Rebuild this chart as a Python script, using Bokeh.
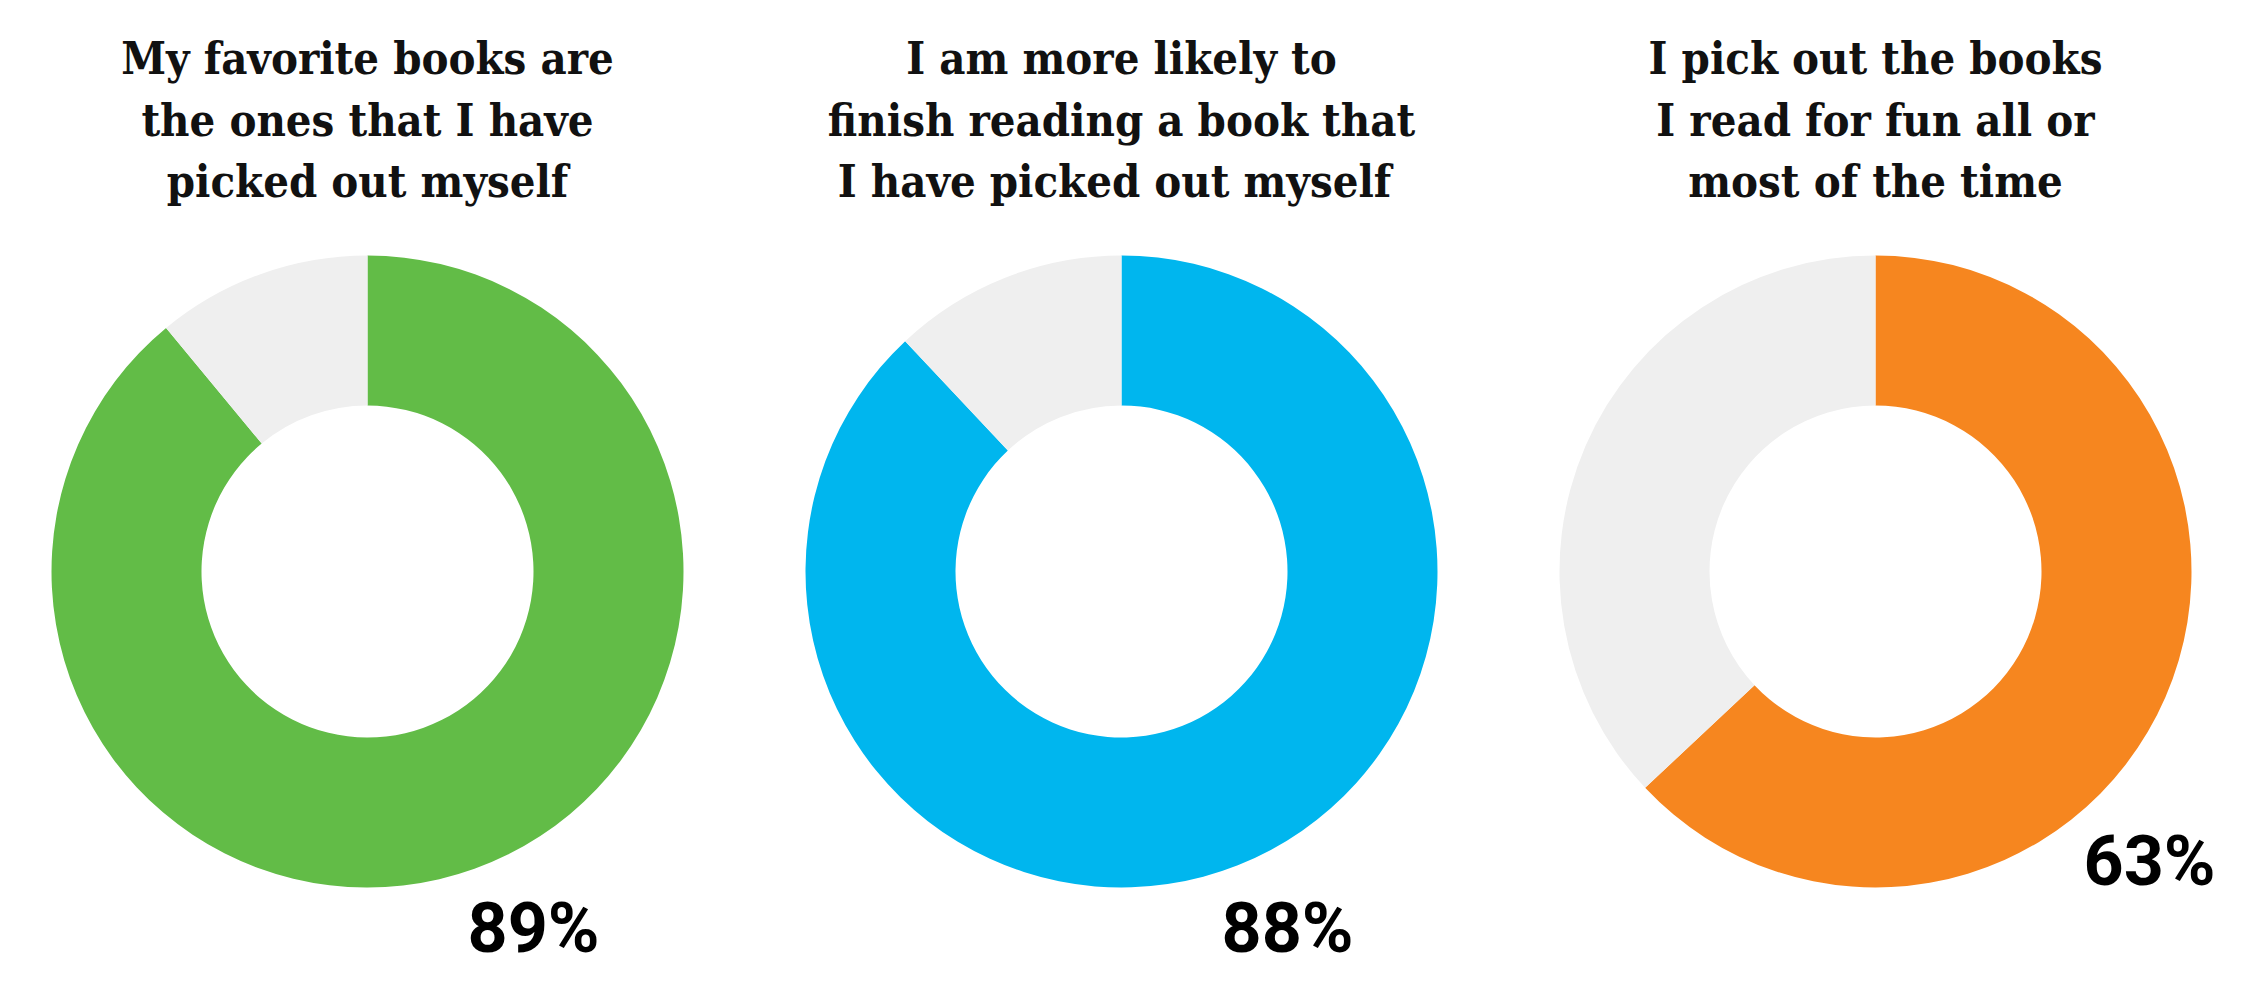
import math
from bokeh.plotting import figure
from bokeh.models import Range1d
from bokeh.core.properties import value
from bokeh.embed import file_html
from bokeh.resources import INLINE

# ---- data ----
titles = [
    ["My favorite books are", "the ones that I have", "picked out myself"],
    ["I am more likely to", "finish reading a book that", " I have picked out myself"],
    ["I pick out the books", "I read for fun all or", "most of the time"],
]
percents = [89, 88, 63]
colors = ["#62BC47", "#00B6EE", "#F6861F"]
rest_color = "#EFEFEF"

# ---- layout (page pixels) ----
PAGE_H = 987
W, H = 2268, 987
X0, Y0 = 0, 0
R_OUT, R_IN = 316, 166
cx0, dx = 367, 754
cy_pix = 571
title_baselines = [58, 120, 181]
label_offsets = [(100, 356), (100, 356), (208, 289)]  # left edge / text anchor, from centre

p = figure(width=W, height=H, output_backend="svg", toolbar_location=None,
           x_range=Range1d(X0, X0 + W), y_range=Range1d(PAGE_H - (Y0 + H), PAGE_H - Y0),
           min_border=0)
p.axis.visible = False
p.grid.visible = False
p.outline_line_color = None
p.background_fill_color = "white"
p.border_fill_color = "white"

def Y(pix):
    return PAGE_H - pix

for i, (pct, col, lines) in enumerate(zip(percents, colors, titles)):
    cx = cx0 + i * dx
    cy = Y(cy_pix)
    top = math.pi / 2
    sweep = pct / 100 * 2 * math.pi
    # main slice: clockwise from top
    p.annular_wedge(x=[cx], y=[cy], inner_radius=R_IN, outer_radius=R_OUT,
                    start_angle=[top - sweep], end_angle=[top],
                    fill_color=col, line_color=None)
    # remainder slice
    p.annular_wedge(x=[cx], y=[cy], inner_radius=R_IN, outer_radius=R_OUT,
                    start_angle=[top], end_angle=[top + 2 * math.pi - sweep],
                    fill_color=rest_color, line_color=None)
    # title
    p.text(x=[cx] * len(lines), y=[Y(b) for b in title_baselines], text=lines,
           text_align="center", text_baseline="alphabetic",
           text_font=value("DejaVu Serif Condensed"), text_font_style="bold",
           text_font_size="45px", text_color="#111111")
    # percentage label
    ox, oy = label_offsets[i]
    p.text(x=[cx + ox], y=[Y(cy_pix + oy)], text=[f"{pct}%"],
           text_align="left", text_baseline="alphabetic",
           text_font=value("Roboto"), text_font_style="bold",
           text_font_size="70px", text_color="#000000")

open("out.html", "w").write(file_html(p, INLINE))
